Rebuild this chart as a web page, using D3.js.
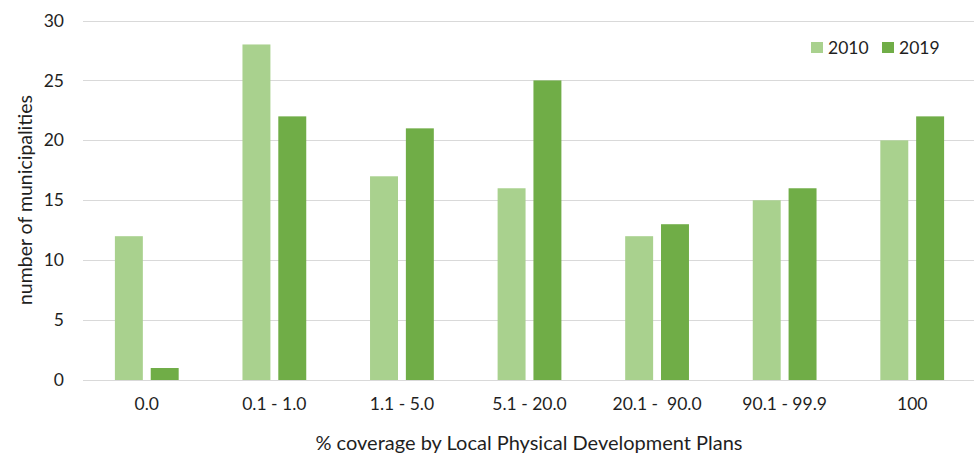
<!DOCTYPE html>
<html>
<head>
<meta charset="utf-8">
<script src="https://cdn.jsdelivr.net/npm/d3@7"></script>
<style>
  html, body { margin: 0; padding: 0; background: #fff; }
  svg { display: block; font-family: Lato, "Open Sans", sans-serif; }
</style>
</head>
<body>
<svg id="chart" width="974" height="454"></svg>
<script>
// Coverage classes (% of municipal area covered by local plans)
const categories = ["0.0", "0.1 - 1.0", "1.1 - 5.0", "5.1 - 20.0", "20.1 -  90.0", "90.1 - 99.9", "100"];
const seriesNames = ["2010", "2019"];
const values2010 = [12, 28, 17, 16, 12, 15, 20];
const values2019 = [1, 22, 21, 25, 13, 16, 22];
const yTicks = [0, 5, 10, 15, 20, 25, 30];
const colors = ["#A9D18E", "#70AD47"];

const svg = d3.select("#chart");
const plot = { left: 83, right: 974, top: 20.5, bottom: 380 };
const textColor = "#1f1f1f";

const x0 = d3.scaleBand()
  .domain(categories)
  .range([plot.left, 976])
  .paddingInner(0.5)
  .paddingOuter(0.25);

const x1 = d3.scaleBand()
  .domain(seriesNames)
  .range([0, x0.bandwidth()])
  .paddingInner(0.22);

const y = d3.scaleLinear().domain([0, 30]).range([plot.bottom, plot.top]);

// horizontal gridlines
svg.append("g")
  .selectAll("line")
  .data(yTicks)
  .join("line")
  .attr("x1", plot.left)
  .attr("x2", plot.right)
  .attr("y1", d => Math.round(y(d)) + 0.5)
  .attr("y2", d => Math.round(y(d)) + 0.5)
  .attr("stroke", "#d9d9d9")
  .attr("stroke-width", 1);

// y axis labels
const yAxis = d3.axisLeft(y).tickValues(yTicks).tickSize(0).tickPadding(0);
svg.append("g")
  .attr("transform", `translate(64,0)`)
  .call(yAxis)
  .call(g => g.select(".domain").remove())
  .call(g => g.selectAll("text")
    .attr("font-size", 17.5)
    .attr("fill", textColor)
    .attr("font-family", "Lato, 'Open Sans', sans-serif"));

// bars
const rows = categories.map((c, i) => ({ cat: c, vals: [values2010[i], values2019[i]] }));
const groups = svg.append("g")
  .selectAll("g")
  .data(rows)
  .join("g")
  .attr("transform", d => `translate(${x0(d.cat)},0)`);

groups.selectAll("rect")
  .data(d => d.vals.map((v, k) => ({ key: seriesNames[k], v, k })))
  .join("rect")
  .attr("x", d => x1(d.key))
  .attr("width", x1.bandwidth())
  .attr("y", d => y(d.v))
  .attr("height", d => y(0) - y(d.v))
  .attr("fill", d => colors[d.k]);

// x axis labels
const xAxis = d3.axisBottom(x0).tickSize(0).tickPadding(0);
svg.append("g")
  .attr("transform", `translate(0,398)`)
  .call(xAxis)
  .call(g => g.select(".domain").remove())
  .call(g => g.selectAll("text")
    .attr("font-size", 17.5)
    .attr("fill", textColor)
    .attr("font-family", "Lato, 'Open Sans', sans-serif")
    .style("white-space", "pre"));

// axis titles
svg.append("text")
  .attr("x", 529)
  .attr("y", 450)
  .attr("text-anchor", "middle")
  .attr("font-size", 20)
  .attr("fill", textColor)
  .text("% coverage by Local Physical Development Plans");

svg.append("text")
  .attr("transform", "translate(32,200) rotate(-90)")
  .attr("text-anchor", "middle")
  .attr("font-size", 19.5)
  .attr("fill", textColor)
  .text("number of municipalities");

// legend
const legend = svg.append("g").attr("transform", "translate(811,42)");
const legendX = [0, 71];
seriesNames.forEach((s, i) => {
  const g = legend.append("g").attr("transform", `translate(${legendX[i]},0)`);
  g.append("rect").attr("width", 12).attr("height", 11).attr("fill", colors[i]);
  g.append("text")
    .attr("x", 17)
    .attr("y", 12)
    .attr("font-size", 17.5)
    .attr("fill", textColor)
    .text(s);
});
</script>
</body>
</html>
